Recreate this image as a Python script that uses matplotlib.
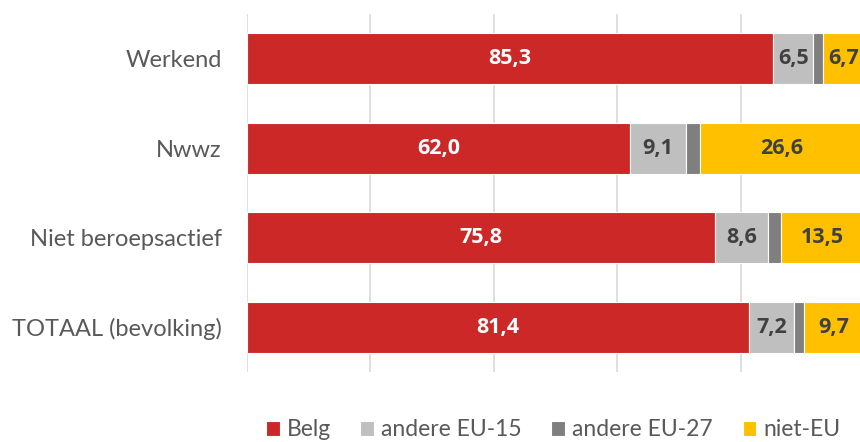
import matplotlib
matplotlib.use("Agg")
import matplotlib.pyplot as plt
import numpy as np

categories = ["Werkend", "Nwwz", "Niet beroepsactief", "TOTAAL (bevolking)"]
series_names = ["Belg", "andere EU-15", "andere EU-27", "niet-EU"]
belg = [85.3, 62.0, 75.8, 81.4]
eu15 = [6.5, 9.1, 8.6, 7.2]
eu27 = [1.5, 2.3, 2.1, 1.7]
niet_eu = [6.7, 26.6, 13.5, 9.7]

colors = ["#CC2828", "#BFBFBF", "#7F7F7F", "#FFC000"]
label_colors = ["white", "#404040", None, "#404040"]

plt.rcParams['font.family'] = ['Lato', 'DejaVu Sans']

fig = plt.figure(figsize=(8.6, 4.42), dpi=100)
ax = fig.add_axes([247/860, 70/442, 617/860, 358/442])

y = np.arange(len(categories))
left = np.zeros(len(categories))
data = [belg, eu15, eu27, niet_eu]
for vals, name, col, lc in zip(data, series_names, colors, label_colors):
    vals = np.array(vals)
    ax.barh(y, vals, left=left, height=0.57, color=col, label=name,
            edgecolor="white", linewidth=0.8, zorder=3)
    if lc is not None:
        for yi, l, v in zip(y, left, vals):
            ax.text(l + v / 2, yi, f"{v:.1f}".replace(".", ","), ha="center",
                    va="center", color=lc, fontsize=15.5, fontweight="bold",
                    family=["Open Sans", "DejaVu Sans"], zorder=4)
    left = left + vals

ax.set_xlim(0, 100)
ax.set_ylim(3.5, -0.5)
ax.set_xticks([0, 20, 40, 60, 80, 100])
ax.set_xticklabels([])
ax.tick_params(axis="x", length=0)
ax.grid(axis="x", color="#D9D9D9", linewidth=1.2, zorder=0)
ax.set_yticks(y)
ax.set_yticklabels(categories, fontsize=17, color="#595959")
ax.tick_params(axis="y", length=0, pad=18)
for s in ax.spines.values():
    s.set_visible(False)

handles, labels = ax.get_legend_handles_labels()
fig.legend(handles, labels, loc="center", bbox_to_anchor=(553/860, 1 - 430/442),
           ncol=4, frameon=False, fontsize=16.5, labelcolor="#595959",
           handlelength=0.6, handleheight=0.6, handletextpad=0.3, columnspacing=1.3)

fig.savefig("out.png", dpi=100)
